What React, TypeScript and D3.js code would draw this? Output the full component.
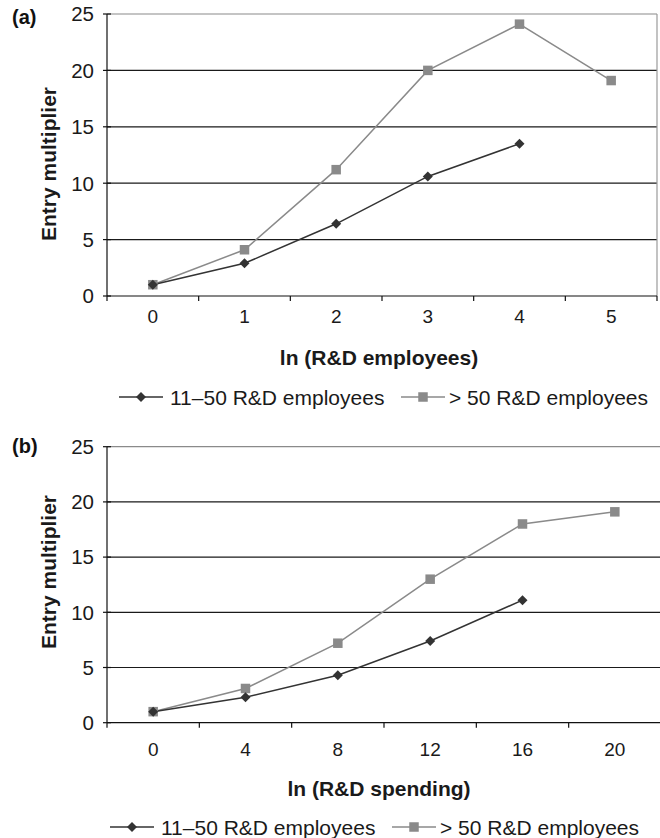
import React from 'react';
import * as d3 from 'd3';

// categories on the x axis
const employeeCats = ['0', '1', '2', '3', '4', '5'];
const spendingCats = ['0', '4', '8', '12', '16', '20'];
const yTicks = [0, 5, 10, 15, 20, 25];

// series read off the picture
const seriesNames = ['11–50 R&D employees', '> 50 R&D employees'];
const empSmall = [1.0, 2.9, 6.4, 10.6, 13.5];
const empLarge = [1.0, 4.1, 11.2, 20.0, 24.1, 19.1];
const spendSmall = [1.0, 2.3, 4.3, 7.4, 11.1];
const spendLarge = [1.0, 3.1, 7.2, 13.0, 18.0, 19.1];

const FONT = '"Liberation Sans", Arial, Helvetica, sans-serif';
const DARK = '#333333';
const GRAY = '#8a8a8a';

type PanelProps = {
  tag: string;
  tagY: number;
  cats: string[];
  small: number[];
  large: number[];
  xTitle: string;
  top: number;
  bottom: number;
  right: number;
  tickY: number;
  titleX: number;
  titleY: number;
  ylabelY: number;
  legendY: number;
  legendX1: number;
  legendX2: number;
};

function Diamond({ x, y }: { x: number; y: number }) {
  const r = 5;
  return <path d={`M${x},${y - r}L${x + r},${y}L${x},${y + r}L${x - r},${y}Z`} fill={DARK} />;
}

function Square({ x, y }: { x: number; y: number }) {
  const s = 9.5;
  return <rect x={x - s / 2} y={y - s / 2} width={s} height={s} fill={GRAY} />;
}

function Panel(p: PanelProps) {
  const left = 107;
  const x = d3.scaleBand<string>().domain(p.cats).range([left, p.right]).padding(0);
  const y = d3.scaleLinear().domain([0, 25]).range([p.bottom, p.top]);
  const cx = (i: number) => (x(p.cats[i]) as number) + x.bandwidth() / 2;
  const line = d3
    .line<number>()
    .x((_, i) => cx(i))
    .y((d) => y(d));

  return (
    <g fontFamily={FONT}>
      <text x={12} y={p.tagY} fontSize={20} fontWeight="bold" fill="#111">
        {p.tag}
      </text>

      {/* grid */}
      {yTicks.slice(1).map((t) => (
        <line
          key={t}
          x1={left}
          x2={p.right}
          y1={y(t)}
          y2={y(t)}
          stroke={t === 25 ? '#8a8a8a' : '#1a1a1a'}
          strokeWidth={1.2}
        />
      ))}
      <line x1={p.right} x2={p.right} y1={p.top} y2={p.bottom} stroke="#9a9a9a" strokeWidth={1.2} />

      {/* y axis */}
      <line x1={left} x2={left} y1={p.top} y2={p.bottom} stroke="#111" strokeWidth={1.2} />
      {yTicks.map((t) => (
        <g key={t}>
          <line x1={left - 4} x2={left + 4} y1={y(t)} y2={y(t)} stroke="#111" strokeWidth={1.2} />
          <text x={94} y={y(t)} dy="0.36em" textAnchor="end" fontSize={20.5} fill="#1a1a1a">
            {t}
          </text>
        </g>
      ))}
      <text
        transform={`translate(56,${p.ylabelY}) rotate(-90)`}
        textAnchor="middle"
        fontSize={21}
        fontWeight="bold"
        fill="#1a1a1a"
      >
        Entry multiplier
      </text>

      {/* x axis */}
      <line x1={left} x2={p.right} y1={p.bottom} y2={p.bottom} stroke="#111" strokeWidth={1.2} />
      {[...p.cats.map((c) => x(c) as number), p.right].map((v, i) => (
        <line key={i} x1={v} x2={v} y1={p.bottom} y2={p.bottom + 5} stroke="#111" strokeWidth={1.2} />
      ))}
      {p.cats.map((c, i) => (
        <text key={c} x={cx(i)} y={p.tickY} textAnchor="middle" fontSize={19} fill="#1a1a1a">
          {c}
        </text>
      ))}
      <text x={p.titleX} y={p.titleY} textAnchor="middle" fontSize={21} fontWeight="bold" fill="#1a1a1a">
        {p.xTitle}
      </text>

      {/* series */}
      <path d={line(p.large) || ''} fill="none" stroke={GRAY} strokeWidth={1.5} />
      <path d={line(p.small) || ''} fill="none" stroke={DARK} strokeWidth={1.5} />
      {p.large.map((v, i) => (
        <Square key={i} x={cx(i)} y={y(v)} />
      ))}
      {p.small.map((v, i) => (
        <Diamond key={i} x={cx(i)} y={y(v)} />
      ))}

      {/* legend */}
      <line x1={p.legendX1} x2={p.legendX1 + 44} y1={p.legendY} y2={p.legendY} stroke={DARK} strokeWidth={1.5} />
      <Diamond x={p.legendX1 + 22} y={p.legendY} />
      <text x={p.legendX1 + 51} y={p.legendY} dy="0.36em" fontSize={21} fill="#1a1a1a">
        {seriesNames[0]}
      </text>
      <line x1={p.legendX2} x2={p.legendX2 + 44} y1={p.legendY} y2={p.legendY} stroke={GRAY} strokeWidth={1.5} />
      <Square x={p.legendX2 + 22} y={p.legendY} />
      <text x={p.legendX2 + 48} y={p.legendY} dy="0.36em" fontSize={21} fill="#1a1a1a">
        {seriesNames[1]}
      </text>
    </g>
  );
}

export default function App() {
  return (
    <svg
      width={660}
      height={838}
      style={{ position: 'absolute', left: 0, top: 0, display: 'block', background: '#fff' }}
    >
      <rect width={660} height={838} fill="#fff" />
      <Panel
        tag="(a)"
        tagY={24}
        cats={employeeCats}
        small={empSmall}
        large={empLarge}
        xTitle="ln (R&D employees)"
        top={14}
        bottom={296}
        right={657}
        tickY={323}
        titleX={379}
        titleY={365}
        ylabelY={164}
        legendY={397}
        legendX1={119}
        legendX2={401}
      />
      <Panel
        tag="(b)"
        tagY={453}
        cats={spendingCats}
        small={spendSmall}
        large={spendLarge}
        xTitle="ln (R&D spending)"
        top={446.7}
        bottom={722.7}
        right={661}
        tickY={756}
        titleX={379}
        titleY={796}
        ylabelY={572}
        legendY={827}
        legendX1={110}
        legendX2={392}
      />
    </svg>
  );
}
